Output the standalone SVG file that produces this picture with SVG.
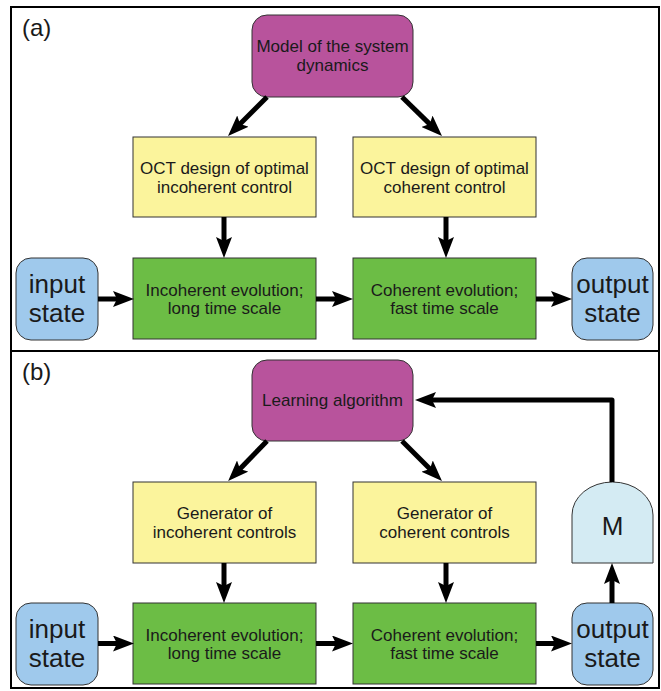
<svg xmlns="http://www.w3.org/2000/svg" width="661" height="691" viewBox="0 0 661 691">
<style>
text{font-family:"Liberation Sans",Arial,sans-serif;fill:#1a1a1a;text-anchor:middle}
.t{font-size:17px}
.big{font-size:26px}
.lab{font-size:24px;text-anchor:start}
.mag{fill:#b8539c;stroke:#333;stroke-width:1}
.yel{fill:#fbf49c;stroke:#333;stroke-width:1}
.grn{fill:#6cbd45;stroke:#333;stroke-width:1}
.blu{fill:#9fc9ec;stroke:#333;stroke-width:1}
.mm{fill:#d4ebf3;stroke:#333;stroke-width:1}
.c{fill:none;stroke:#000;stroke-width:5;marker-end:url(#ah)}
</style>
<defs>
<marker id="ah" viewBox="0 0 21 16" refX="9" refY="8" markerWidth="21" markerHeight="16" markerUnits="userSpaceOnUse" orient="auto">
<path d="M0,0 L21,8 L0,16 L4,8 z" fill="#000"/>
</marker>
</defs>
<rect x="0" y="0" width="661" height="691" fill="#fff"/>
<g id="frame" fill="none" stroke="#000" stroke-width="2">
<rect x="11" y="7" width="648" height="681"/>
<line x1="11" y1="351" x2="659" y2="351"/>
</g>
<text class="lab" x="22" y="36">(a)</text>
<text class="lab" x="22" y="380">(b)</text>

<g id="a_model"><rect class="mag" x="252" y="15" width="161" height="82" rx="15"/>
<text class="t" x="332.5" y="52">Model of the system</text><text class="t" x="332.5" y="71">dynamics</text></g>
<g id="a_oct_inc"><rect class="yel" x="133" y="137" width="183" height="80"/>
<text class="t" x="224.5" y="174">OCT design of optimal</text><text class="t" x="224.5" y="193">incoherent control</text></g>
<g id="a_oct_coh"><rect class="yel" x="353" y="137" width="183" height="80"/>
<text class="t" x="444.5" y="174">OCT design of optimal</text><text class="t" x="444.5" y="193">coherent control</text></g>
<g id="a_input"><rect class="blu" x="16" y="258" width="82" height="82" rx="15"/>
<text class="big" x="57" y="293">input</text><text class="big" x="57" y="322">state</text></g>
<g id="a_inc"><rect class="grn" x="133" y="258" width="183" height="81"/>
<text class="t" x="224.5" y="296">Incoherent evolution;</text><text class="t" x="224.5" y="314">long time scale</text></g>
<g id="a_coh"><rect class="grn" x="353" y="258" width="183" height="81"/>
<text class="t" x="444.5" y="296">Coherent evolution;</text><text class="t" x="444.5" y="314">fast time scale</text></g>
<g id="a_output"><rect class="blu" x="572" y="258" width="81" height="82" rx="15"/>
<text class="big" x="612.5" y="293">output</text><text class="big" x="612.5" y="322">state</text></g>

<g id="b_learn"><rect class="mag" x="252" y="360" width="161" height="81" rx="15"/>
<text class="t" x="332.5" y="406">Learning algorithm</text></g>
<g id="b_gen_inc"><rect class="yel" x="133" y="482" width="183" height="81"/>
<text class="t" x="224.5" y="519">Generator of</text><text class="t" x="224.5" y="538">incoherent controls</text></g>
<g id="b_gen_coh"><rect class="yel" x="353" y="482" width="183" height="81"/>
<text class="t" x="444.5" y="519">Generator of</text><text class="t" x="444.5" y="538">coherent controls</text></g>
<g id="b_M"><path class="mm" d="M572,563 V515 A40.5,33 0 0 1 653,515 V563 Z"/>
<text class="big" x="612.5" y="535">M</text></g>
<g id="b_input"><rect class="blu" x="16" y="603" width="82" height="82" rx="15"/>
<text class="big" x="57" y="638">input</text><text class="big" x="57" y="667">state</text></g>
<g id="b_inc"><rect class="grn" x="133" y="603" width="183" height="81"/>
<text class="t" x="224.5" y="641">Incoherent evolution;</text><text class="t" x="224.5" y="659">long time scale</text></g>
<g id="b_coh"><rect class="grn" x="353" y="603" width="183" height="81"/>
<text class="t" x="444.5" y="641">Coherent evolution;</text><text class="t" x="444.5" y="659">fast time scale</text></g>
<g id="b_output"><rect class="blu" x="572" y="603" width="81" height="82" rx="15"/>
<text class="big" x="612.5" y="638">output</text><text class="big" x="612.5" y="667">state</text></g>

<g id="connectors">
<line class="c" x1="267" y1="97" x2="236.5" y2="127.5"/>
<line class="c" x1="402" y1="97" x2="433.4" y2="127.6"/>
<line class="c" x1="224" y1="217" x2="224" y2="246"/>
<line class="c" x1="446" y1="217" x2="446" y2="246"/>
<line class="c" x1="98" y1="299" x2="122" y2="299"/>
<line class="c" x1="316" y1="299" x2="341" y2="299"/>
<line class="c" x1="536" y1="299" x2="560" y2="299"/>
<line class="c" x1="267" y1="441" x2="236.5" y2="472.5"/>
<line class="c" x1="402" y1="441" x2="433.5" y2="472.5"/>
<line class="c" x1="224" y1="563" x2="224" y2="591"/>
<line class="c" x1="446" y1="563" x2="446" y2="591"/>
<line class="c" x1="98" y1="643.5" x2="122" y2="643.5"/>
<line class="c" x1="316" y1="643.5" x2="341" y2="643.5"/>
<line class="c" x1="536" y1="643.5" x2="560" y2="643.5"/>
<line class="c" x1="612" y1="603" x2="612" y2="575"/>
<path class="c" d="M612,482 V400 H427" stroke-linejoin="round"/>
</g>
</svg>
